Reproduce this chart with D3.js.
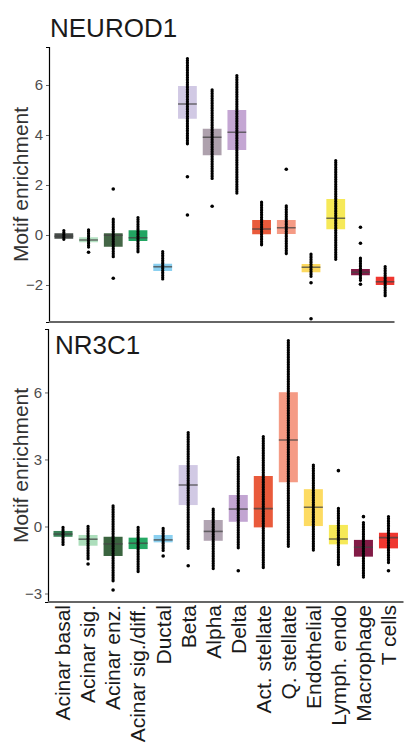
<!DOCTYPE html>
<html>
<head>
<meta charset="utf-8">
<script src="https://cdn.jsdelivr.net/npm/d3@7"></script>
<style>
body { margin: 0; background: #fff; }
text { font-family: "Liberation Sans", Arial, sans-serif; }
</style>
</head>
<body>
<svg id="chart" width="404" height="745"></svg>
<script>
var cellTypes = ["Acinar basal", "Acinar sig.", "Acinar enz.", "Acinar sig./diff.", "Ductal", "Beta", "Alpha",
    "Delta", "Act. stellate", "Q. stellate", "Endothelial", "Lymph. endo", "Macrophage", "T cells"];

// NEUROD1 (top)
var neuroQ1  = [-0.15, -0.29, -0.47, -0.24, -1.44, 4.65, 3.19, 3.40, 0.03, 0.04, -1.49, 0.23, -1.61, -2.00];
var neuroMed = [-0.05, -0.20, -0.01, -0.11, -1.27, 5.24, 3.91, 4.11, 0.24, 0.29, -1.29, 0.67, -1.49, -1.87];
var neuroQ3  = [0.07, -0.09, 0.07, 0.19, -1.15, 5.96, 4.25, 5.00, 0.60, 0.60, -1.16, 1.44, -1.36, -1.67];
var neuroLo  = [-0.21, -0.53, -0.93, -0.73, -1.76, 3.63, 2.24, 1.63, -0.44, -0.80, -1.67, -1.00, -1.83, -2.44];
var neuroHi  = [0.17, 0.20, 0.63, 0.69, -0.67, 7.05, 5.80, 6.37, 1.31, 1.16, -0.77, 2.97, -0.93, -1.27];
var neuroOut = [[], [-0.69], [1.84, -1.73], [], [], [2.33, 0.80], [1.15], [], [], [2.63], [-1.91, -3.35], [], [0.31, -0.33, -1.97], []];
var neuroTicks = [-2, 0, 2, 4, 6];
var neuroColors = ["#3c423e", "#b0dfbf", "#3a5e3c", "#16a05a", "#85cdef", "#cfc6e3", "#aa9ca9",
    "#c1a1d1", "#e85130", "#f4967e", "#fcd757", "#f6e84f", "#7b0f3c", "#ee2c25"];

// NR3C1 (bottom)
var nrQ1  = [-0.46, -0.86, -1.32, -1.01, -0.71, 0.96, -0.64, 0.21, -0.04, 1.98, 0.02, -0.80, -1.35, -0.98];
var nrMed = [-0.34, -0.57, -0.78, -0.75, -0.60, 1.86, -0.22, 0.78, 0.80, 3.87, 0.86, -0.56, -0.93, -0.50];
var nrQ3  = [-0.20, -0.38, -0.46, -0.50, -0.38, 2.75, 0.29, 1.41, 2.26, 6.01, 1.67, 0.07, -0.60, -0.28];
var nrLo  = [-0.83, -1.50, -2.47, -2.02, -1.13, -1.05, -1.92, -1.01, -1.84, -0.93, -1.13, -1.76, -2.32, -1.65];
var nrHi  = [-0.04, 0.00, 0.92, -0.04, -0.08, 4.20, 0.78, 3.08, 4.02, 8.32, 2.75, 0.81, 0.17, 0.44];
var nrOut = [[], [-1.68], [-2.84], [], [-1.32], [-1.76], [], [-1.98], [], [], [], [2.50], [0.44], [-1.98]];
var nrTicks = [-3, 0, 3, 6];
var nrColors = ["#2d7a4d", "#a9dcb8", "#2f5c35", "#1aa35c", "#85cdef", "#cfc6e3", "#ad9fae",
    "#bfa0d0", "#e85130", "#f4967e", "#fdd95a", "#f6e84f", "#7b0f3c", "#ee2c25"];

var svg = d3.select("#chart");

function drawPanel(opt) {
    var x = d3.scalePoint().domain(cellTypes).range([opt.left, opt.right]).padding(0.6);
    var y = d3.scaleLinear().domain(opt.domain).range([opt.bottom, opt.top]);
    var bw = x.step() * 0.76;

    var rows = cellTypes.map(function(c, i) {
        return {name: c, q1: opt.q1[i], med: opt.med[i], q3: opt.q3[i], lo: opt.lo[i], hi: opt.hi[i],
            out: opt.out[i], color: opt.colors[i]};
    });

    svg.append("clipPath").attr("id", opt.id)
        .append("rect").attr("x", opt.left).attr("y", opt.top - 5)
        .attr("width", opt.clipRight - opt.left).attr("height", opt.bottom - opt.top + 5);

    var g = svg.append("g").attr("clip-path", "url(#" + opt.id + ")");

    g.selectAll(".box").data(rows).enter().append("rect")
        .attr("x", function(d) { return x(d.name) - bw / 2; })
        .attr("width", bw)
        .attr("y", function(d) { return y(d.q3); })
        .attr("height", function(d) { return y(d.q1) - y(d.q3); })
        .attr("fill", function(d) { return d.color; })
        .attr("fill-opacity", 0.95);

    g.selectAll(".med").data(rows).enter().append("line")
        .attr("x1", function(d) { return x(d.name) - bw / 2; })
        .attr("x2", function(d) { return x(d.name) + bw / 2; })
        .attr("y1", function(d) { return y(d.med); })
        .attr("y2", function(d) { return y(d.med); })
        .attr("stroke", "#444").attr("stroke-opacity", 0.75).attr("stroke-width", 1.6);

    // stacked points drawn as a dotted strip
    g.selectAll(".strip").data(rows).enter().append("line")
        .attr("x1", function(d) { return x(d.name); })
        .attr("x2", function(d) { return x(d.name); })
        .attr("y1", function(d) { return y(d.hi); })
        .attr("y2", function(d) { return y(d.lo); })
        .attr("stroke", "#000").attr("stroke-width", 3.3)
        .attr("stroke-linecap", "round").attr("stroke-dasharray", "0 1.7");

    rows.forEach(function(d) {
        g.selectAll(null).data(d.out).enter().append("circle")
            .attr("cx", x(d.name))
            .attr("cy", function(v) { return y(v); })
            .attr("r", 1.8)
            .attr("fill", "#000");
    });

    // y axis
    var ya = svg.append("g").attr("transform", "translate(" + opt.left + ",0)")
        .call(d3.axisLeft(y).tickValues(opt.ticks).tickSize(3).tickPadding(3));
    ya.select(".domain").attr("stroke", "#000").attr("stroke-width", 1.2);
    ya.selectAll(".tick line").attr("stroke", "#666");
    ya.selectAll(".tick text").attr("fill", "#4d4d4d").style("font-size", "15px");

    // x axis line
    svg.append("line")
        .attr("x1", opt.left).attr("x2", opt.clipRight)
        .attr("y1", opt.bottom).attr("y2", opt.bottom)
        .attr("stroke", "#666").attr("stroke-width", 2);

    svg.append("text")
        .attr("transform", "translate(28," + ((opt.top + opt.bottom) / 2) + ") rotate(-90)")
        .attr("text-anchor", "middle")
        .attr("fill", "#333")
        .style("font-size", "21px")
        .text("Motif enrichment");

    svg.append("text")
        .attr("x", opt.titleX).attr("y", opt.titleY)
        .attr("fill", "#1a1a1a")
        .style("font-size", "26px")
        .text(opt.title);

    return x;
}

drawPanel({id: "clipTop", title: "NEUROD1", titleX: 50, titleY: 37,
    left: 49, right: 400, clipRight: 394.5, top: 47, bottom: 322, domain: [-3.48, 7.52],
    q1: neuroQ1, med: neuroMed, q3: neuroQ3, lo: neuroLo, hi: neuroHi, out: neuroOut,
    colors: neuroColors, ticks: neuroTicks});

var xb = drawPanel({id: "clipBottom", title: "NR3C1", titleX: 55, titleY: 354,
    left: 48, right: 403.5, clipRight: 403.5, top: 329, bottom: 602, domain: [-3.38, 8.84],
    q1: nrQ1, med: nrMed, q3: nrQ3, lo: nrLo, hi: nrHi, out: nrOut,
    colors: nrColors, ticks: nrTicks});

// category labels
svg.selectAll(".xlab").data(cellTypes).enter().append("text")
    .attr("transform", function(d) { return "translate(" + xb(d) + ",605) rotate(-90)"; })
    .attr("text-anchor", "end")
    .attr("dy", "0.35em")
    .attr("fill", "#1a1a1a")
    .style("font-size", "21px")
    .text(function(d) { return d; });
</script>
</body>
</html>
